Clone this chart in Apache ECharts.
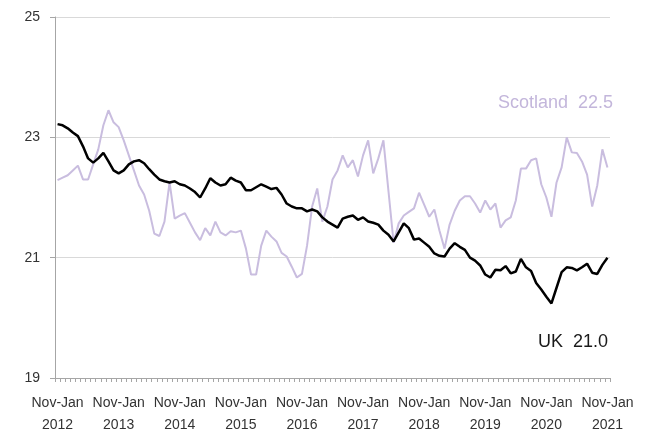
<!DOCTYPE html>
<html>
<head>
    <meta charset="utf-8">
    <title>UK vs Scotland</title>
    <script src="https://cdn.jsdelivr.net/npm/echarts@6/dist/echarts.min.js"></script>
</head>
<body style="margin:0;background:#fff;">
    <div id="main" style="width: 660px;height:436px;"></div>
    <script type="text/javascript">
        // rolling three-month periods, Nov-Jan 2012 to Nov-Jan 2021
        var periods = ['Nov-Jan', 'Dec-Feb', 'Jan-Mar', 'Feb-Apr', 'Mar-May', 'Apr-Jun',
                       'May-Jul', 'Jun-Aug', 'Jul-Sep', 'Aug-Oct', 'Sep-Nov', 'Oct-Dec'];
        var years = [2012, 2013, 2014, 2015, 2016, 2017, 2018, 2019, 2020, 2021];

        var uk = [
            23.22, 23.2, 23.15, 23.08, 23.02, 22.85, 22.65, 22.58, 22.65, 22.74, 22.6, 22.45,
            22.4, 22.45, 22.55, 22.6, 22.62, 22.57, 22.47, 22.38, 22.3, 22.27, 22.25, 22.27,
            22.22, 22.2, 22.15, 22.09, 22.0, 22.15, 22.32, 22.25, 22.2, 22.22, 22.33, 22.28,
            22.25, 22.12, 22.12, 22.17, 22.22, 22.18, 22.14, 22.16, 22.05, 21.9, 21.85, 21.82,
            21.82, 21.77, 21.8, 21.77, 21.67, 21.6, 21.55, 21.5, 21.65, 21.68, 21.7, 21.63,
            21.67, 21.6, 21.58, 21.55, 21.45, 21.38, 21.27, 21.42, 21.57, 21.49, 21.3, 21.32,
            21.25, 21.18, 21.07, 21.03, 21.02, 21.15, 21.24, 21.18, 21.13, 21.0, 20.95, 20.87,
            20.72, 20.67, 20.8, 20.79, 20.86, 20.74, 20.77, 20.98, 20.84, 20.78, 20.58, 20.47,
            20.35, 20.24, 20.5, 20.76, 20.84, 20.83, 20.79, 20.84, 20.9, 20.75, 20.73, 20.88,
            21.0
        ];

        var scotland = [
            22.29, 22.33, 22.37, 22.45, 22.53, 22.3, 22.3, 22.55, 22.8, 23.2, 23.45, 23.25,
            23.17, 22.95, 22.7, 22.45, 22.2, 22.05, 21.78, 21.4, 21.36, 21.6, 22.25, 21.65,
            21.7, 21.74, 21.58, 21.42, 21.29, 21.49, 21.37, 21.6, 21.42, 21.37, 21.44, 21.42,
            21.45, 21.15, 20.72, 20.72, 21.2, 21.45, 21.35, 21.27, 21.08, 21.02, 20.85, 20.67,
            20.73, 21.2, 21.85, 22.15, 21.6, 21.85, 22.3, 22.45, 22.7, 22.5, 22.62, 22.35,
            22.7, 22.95, 22.4, 22.65, 22.95, 22.1, 21.25, 21.57, 21.7, 21.76, 21.82, 22.08,
            21.88, 21.68, 21.8, 21.45, 21.15, 21.55, 21.78, 21.95, 22.02, 22.02, 21.9, 21.75,
            21.95, 21.8, 21.9, 21.5, 21.62, 21.67, 21.95, 22.48, 22.48, 22.62, 22.65, 22.22,
            22.0, 21.68, 22.25, 22.5, 23.0, 22.75, 22.74, 22.6, 22.38, 21.85, 22.2, 22.8,
            22.5
        ];

        var yTicks = {min: 19, max: 25, interval: 2};

        var categories = [];
        for (var i = 0; i < uk.length; i++) {
            var yr = years[0] + Math.floor((i + 10) / 12);
            if (i % 12 === 0) yr = years[i / 12];
            categories.push(periods[i % 12] + ' ' + yr);
        }

        var myChart = echarts.init(document.getElementById('main'));
        var font = 'Liberation Sans';

        var option = {
            animation: false,
            backgroundColor: '#fff',
            grid: {left: 55, right: 50, top: 17, bottom: 58},
            xAxis: {
                type: 'category',
                data: categories,
                boundaryGap: true,
                axisLine: {lineStyle: {color: '#a6a6a6', width: 1}},
                axisTick: {show: true, interval: 0, length: 4, lineStyle: {color: '#a6a6a6'}},
                axisLabel: {
                    interval: 11,
                    color: '#333',
                    fontFamily: font,
                    fontSize: 14,
                    lineHeight: 22,
                    margin: 14,
                    formatter: function (v) { return v.replace(' ', '\n'); }
                },
                splitLine: {show: false}
            },
            yAxis: {
                type: 'value',
                min: yTicks.min,
                max: yTicks.max,
                interval: yTicks.interval,
                axisLine: {show: true, lineStyle: {color: '#a6a6a6', width: 1}},
                axisTick: {show: true, length: 5, lineStyle: {color: '#a6a6a6'}},
                axisLabel: {color: '#333', fontFamily: font, fontSize: 14, margin: 15},
                splitLine: {lineStyle: {color: '#d9d9d9', width: 1}}
            },
            series: [
                {
                    name: 'Scotland',
                    type: 'line',
                    data: scotland,
                    showSymbol: false,
                    lineStyle: {color: '#c9bddf', width: 2},
                    itemStyle: {color: '#c9bddf'}
                },
                {
                    name: 'UK',
                    type: 'line',
                    data: uk,
                    showSymbol: false,
                    lineStyle: {color: '#000', width: 2.5},
                    itemStyle: {color: '#000'}
                }
            ],
            graphic: [
                {
                    type: 'text', right: 47, top: 94,
                    style: {text: 'Scotland  ' + scotland[scotland.length - 1].toFixed(1),
                            fill: '#c3b6db', font: '18px ' + font}
                },
                {
                    type: 'text', right: 52, top: 333,
                    style: {text: 'UK  ' + uk[uk.length - 1].toFixed(1),
                            fill: '#1a1a1a', font: '18px ' + font}
                }
            ]
        };
        myChart.setOption(option);
    </script>
</body>
</html>
